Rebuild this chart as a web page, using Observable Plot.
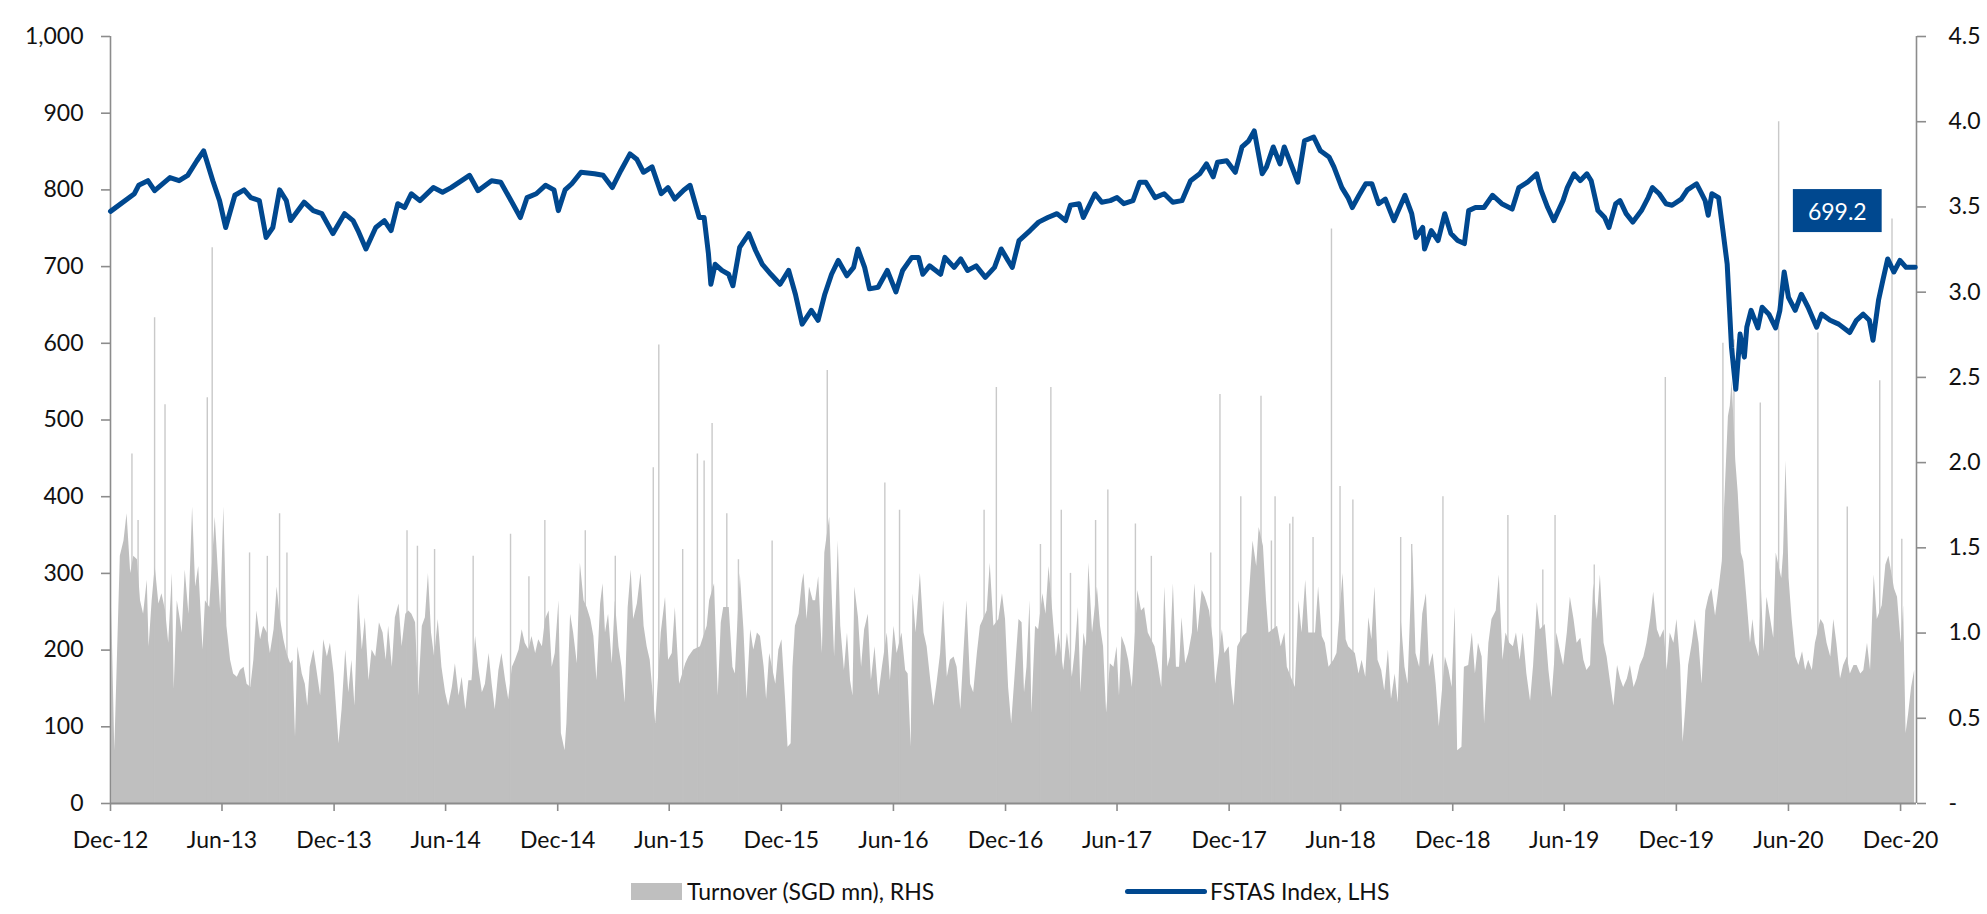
<!DOCTYPE html>
<html>
<head>
<meta charset="utf-8">
<script src="https://cdn.jsdelivr.net/npm/d3@7"></script>
<script src="https://cdn.jsdelivr.net/npm/@observablehq/plot@0.6"></script>
<style>
  html, body { margin: 0; padding: 0; background: #fff; }
  #chart svg { display: block; }
  #legend { position: relative; width: 1987px; height: 54px; font-family: Lato, "Open Sans", sans-serif; font-size: 23px; color: #111; }
  .item { position: absolute; top: 17px; height: 28px; display: flex; align-items: center; white-space: nowrap; }
  .sw-area { width: 51px; height: 17px; background: #bfbfbf; margin-right: 5px; }
  .sw-line { width: 82px; height: 5px; border-radius: 3px; background: #00488f; margin-right: 3px; }
</style>
</head>
<body>
<div id="chart"></div>
<div id="legend">
  <div class="item" style="left:631px"><div class="sw-area"></div><span>Turnover (SGD mn), RHS</span></div>
  <div class="item" style="left:1125px"><div class="sw-line"></div><span>FSTAS Index, LHS</span></div>
</div>
<script>
// ---- FSTAS Index (LHS) ----
const fstas = [
["2012-12-01",772],["2013-01-09",795],["2013-01-16",806],["2013-01-31",812],["2013-02-11",799],["2013-03-08",816],
["2013-03-23",812],["2013-04-06",819],["2013-04-21",838],["2013-05-02",851],["2013-05-17",812],["2013-05-28",786],
["2013-06-07",751],["2013-06-22",793],["2013-07-07",800],["2013-07-18",790],["2013-08-01",786],["2013-08-12",738],
["2013-08-23",751],["2013-09-03",800],["2013-09-14",786],["2013-09-21",760],["2013-10-13",784],["2013-10-28",773],
["2013-11-11",769],["2013-11-29",743],["2013-12-18",769],["2014-01-01",760],["2014-01-09",747],["2014-01-22",723],
["2014-02-07",751],["2014-02-21",760],["2014-03-04",747],["2014-03-15",782],["2014-03-26",777],["2014-04-06",795],
["2014-04-20",786],["2014-05-12",803],["2014-05-27",797],["2014-06-10",803],["2014-07-10",819],["2014-07-24",799],
["2014-08-15",812],["2014-08-30",810],["2014-09-13",790],["2014-10-01",764],["2014-10-12",790],["2014-10-27",795],
["2014-11-11",806],["2014-11-25",800],["2014-12-02",773],["2014-12-13",800],["2014-12-24",808],["2015-01-08",823],
["2015-01-30",821],["2015-02-13",819],["2015-02-28",803],["2015-03-14",825],["2015-03-29",847],["2015-04-09",840],
["2015-04-20",823],["2015-05-04",830],["2015-05-19",795],["2015-05-30",803],["2015-06-10",788],["2015-06-25",800],
["2015-07-05",806],["2015-07-20",764],["2015-07-28",764],["2015-08-04",717],["2015-08-08",677],["2015-08-15",703],
["2015-08-26",695],["2015-09-06",690],["2015-09-13",675],["2015-09-24",725],["2015-10-09",743],["2015-10-20",721],
["2015-10-31",703],["2015-11-14",690],["2015-11-29",677],["2015-12-13",695],["2015-12-24",664],["2016-01-04",625],
["2016-01-19",643],["2016-01-30",630],["2016-02-10",664],["2016-02-21",690],["2016-03-03",708],["2016-03-17",688],
["2016-03-28",699],["2016-04-04",723],["2016-04-15",699],["2016-04-23",671],["2016-05-07",673],["2016-05-22",695],
["2016-06-05",667],["2016-06-16",695],["2016-07-01",712],["2016-07-12",712],["2016-07-19",690],["2016-07-30",701],
["2016-08-17",690],["2016-08-24",712],["2016-09-08",699],["2016-09-19",710],["2016-09-30",695],["2016-10-14",701],
["2016-10-29",686],["2016-11-13",699],["2016-11-24",723],["2016-12-05",708],["2016-12-12",699],["2016-12-23",734],
["2017-01-10",747],["2017-01-24",758],["2017-02-08",764],["2017-02-23",769],["2017-03-09",760],["2017-03-17",780],
["2017-03-31",782],["2017-04-07",764],["2017-04-26",795],["2017-05-07",784],["2017-05-21",786],["2017-06-01",790],
["2017-06-12",782],["2017-06-27",786],["2017-07-08",810],["2017-07-18",810],["2017-08-02",790],["2017-08-17",795],
["2017-08-31",784],["2017-09-15",786],["2017-09-29",812],["2017-10-14",821],["2017-10-25",834],["2017-11-05",817],
["2017-11-12",836],["2017-11-27",838],["2017-12-11",823],["2017-12-22",856],["2018-01-02",864],["2018-01-11",877],
["2018-01-24",821],["2018-01-31",830],["2018-02-11",856],["2018-02-22",834],["2018-03-01",856],["2018-03-16",825],
["2018-03-23",810],["2018-04-03",864],["2018-04-18",869],["2018-04-29",851],["2018-05-13",843],["2018-05-21",830],
["2018-06-03",803],["2018-06-13",790],["2018-06-20",777],["2018-07-01",793],["2018-07-12",808],["2018-07-22",808],
["2018-08-02",782],["2018-08-13",788],["2018-08-27",760],["2018-09-14",793],["2018-09-25",769],["2018-10-02",738],
["2018-10-13",751],["2018-10-16",723],["2018-10-27",747],["2018-11-07",734],["2018-11-18",769],["2018-11-28",743],
["2018-12-09",734],["2018-12-20",730],["2018-12-27",773],["2019-01-07",777],["2019-01-21",777],["2019-02-04",793],
["2019-02-19",782],["2019-03-08",775],["2019-03-19",803],["2019-04-02",810],["2019-04-17",821],["2019-04-24",800],
["2019-05-05",777],["2019-05-15",760],["2019-05-30",786],["2019-06-06",803],["2019-06-17",821],["2019-06-27",812],
["2019-07-08",821],["2019-07-15",812],["2019-07-26",773],["2019-08-06",764],["2019-08-13",751],["2019-08-24",782],
["2019-08-31",786],["2019-09-10",769],["2019-09-21",758],["2019-10-05",773],["2019-10-16",790],["2019-10-23",803],
["2019-11-03",795],["2019-11-14",782],["2019-11-24",780],["2019-12-09",788],["2019-12-19",800],["2020-01-03",808],
["2020-01-10",797],["2020-01-17",786],["2020-01-22",767],["2020-01-28",795],["2020-02-08",790],["2020-02-15",747],
["2020-02-22",703],["2020-02-29",595],["2020-03-07",540],["2020-03-14",612],["2020-03-21",582],["2020-03-25",621],
["2020-04-01",643],["2020-04-12",620],["2020-04-19",647],["2020-04-30",638],["2020-05-11",620],["2020-05-18",643],
["2020-05-25",693],["2020-06-01",660],["2020-06-12",643],["2020-06-22",664],["2020-07-03",647],["2020-07-17",621],
["2020-07-25",638],["2020-08-08",630],["2020-08-22",625],["2020-09-09",614],["2020-09-20",630],["2020-10-01",638],
["2020-10-11",630],["2020-10-17",604],["2020-10-26",656],["2020-11-02",682],["2020-11-10",710],["2020-11-20",693],
["2020-11-30",708],["2020-12-10",699],["2020-12-25",699.2]
];

// ---- Turnover (RHS) : general level ----
const turnover = [
["2012-12-03",1.15],["2012-12-08",0.31],["2012-12-12",0.82],["2012-12-17",1.45],["2012-12-23",1.54],["2012-12-28",1.70],
["2013-01-03",1.35],["2013-01-08",1.45],["2013-01-14",1.43],["2013-01-19",1.19],["2013-01-24",1.11],["2013-01-30",1.31],
["2013-02-02",0.92],["2013-02-07",1.19],["2013-02-12",1.39],["2013-02-18",1.17],["2013-02-23",1.23],["2013-03-01",1.13],
["2013-03-06",0.94],["2013-03-12",1.35],["2013-03-15",0.67],["2013-03-20",1.19],["2013-03-25",1.08],["2013-03-28",1.00],
["2013-04-02",1.37],["2013-04-08",1.11],["2013-04-14",1.74],["2013-04-19",1.27],["2013-04-24",1.39],["2013-05-01",0.90],
["2013-05-05",1.19],["2013-05-12",1.15],["2013-05-21",1.68],["2013-05-30",1.11],["2013-06-04",1.74],["2013-06-09",1.04],
["2013-06-15",0.84],["2013-06-20",0.76],["2013-06-26",0.74],["2013-07-01",0.78],["2013-07-07",0.80],["2013-07-12",0.70],
["2013-07-18",0.68],["2013-07-23",0.84],["2013-07-28",1.13],["2013-08-03",0.96],["2013-08-08",1.04],["2013-08-14",1.00],
["2013-08-19",0.88],["2013-08-25",1.02],["2013-08-30",1.27],["2013-09-04",1.09],["2013-09-10",0.96],["2013-09-15",0.88],
["2013-09-21",0.82],["2013-09-25",0.84],["2013-09-29",0.39],["2013-10-03",0.92],["2013-10-10",0.76],["2013-10-15",0.70],
["2013-10-19",0.57],["2013-10-23",0.80],["2013-10-29",0.90],["2013-11-03",0.78],["2013-11-09",0.63],["2013-11-14",0.96],
["2013-11-20",0.86],["2013-11-25",0.94],["2013-12-01",0.76],["2013-12-04",0.61],["2013-12-09",0.35],["2013-12-14",0.55],
["2013-12-20",0.90],["2013-12-25",0.65],["2013-12-30",0.84],["2014-01-04",0.57],["2014-01-10",1.23],["2014-01-16",0.90],
["2014-01-21",1.09],["2014-01-27",0.72],["2014-02-01",0.90],["2014-02-07",0.86],["2014-02-13",1.06],["2014-02-19",1.00],
["2014-02-24",0.84],["2014-02-28",1.04],["2014-03-06",0.80],["2014-03-11",1.09],["2014-03-17",1.17],["2014-03-22",0.92],
["2014-03-28",1.11],["2014-04-02",1.13],["2014-04-07",1.11],["2014-04-13",1.06],["2014-04-18",0.63],["2014-04-24",1.04],
["2014-04-29",1.09],["2014-05-04",1.35],["2014-05-09",1.00],["2014-05-14",0.86],["2014-05-20",1.08],["2014-05-26",0.80],
["2014-06-01",0.65],["2014-06-06",0.57],["2014-06-12",0.68],["2014-06-17",0.82],["2014-06-23",0.63],["2014-06-28",0.74],
["2014-07-04",0.55],["2014-07-09",0.72],["2014-07-14",0.72],["2014-07-20",0.98],["2014-07-25",0.80],["2014-07-31",0.65],
["2014-08-05",0.70],["2014-08-11",0.88],["2014-08-16",0.70],["2014-08-21",0.55],["2014-08-27",0.78],["2014-09-01",0.88],
["2014-09-07",0.72],["2014-09-12",0.61],["2014-09-18",0.80],["2014-09-23",0.84],["2014-09-29",0.90],["2014-10-04",1.02],
["2014-10-09",0.94],["2014-10-15",0.90],["2014-10-20",0.98],["2014-10-26",0.88],["2014-10-31",0.96],["2014-11-06",0.92],
["2014-11-11",1.08],["2014-11-17",1.13],["2014-11-22",0.80],["2014-11-27",0.88],["2014-12-03",1.19],["2014-12-07",0.41],
["2014-12-13",0.31],["2014-12-16",0.47],["2014-12-22",1.11],["2014-12-27",1.00],["2015-01-02",0.82],["2015-01-07",1.41],
["2015-01-13",1.19],["2015-01-18",1.15],["2015-01-24",1.08],["2015-01-29",0.98],["2015-02-03",0.72],["2015-02-09",1.17],
["2015-02-13",1.29],["2015-02-17",1.00],["2015-02-22",1.11],["2015-02-28",0.82],["2015-03-05",1.19],["2015-03-11",0.92],
["2015-03-16",0.80],["2015-03-21",0.59],["2015-03-26",1.15],["2015-03-31",1.37],["2015-04-04",1.08],["2015-04-10",1.17],
["2015-04-16",1.35],["2015-04-21",1.04],["2015-04-26",0.92],["2015-05-01",0.84],["2015-05-10",0.47],["2015-05-19",1.00],
["2015-05-26",1.21],["2015-05-31",0.84],["2015-06-06",0.88],["2015-06-11",1.15],["2015-06-18",0.70],["2015-06-28",0.82],
["2015-07-03",0.86],["2015-07-11",0.90],["2015-07-22",0.92],["2015-08-02",1.04],["2015-08-06",1.19],["2015-08-14",1.29],
["2015-08-20",0.63],["2015-08-25",1.06],["2015-08-29",1.15],["2015-09-07",1.15],["2015-09-13",0.80],["2015-09-17",0.76],
["2015-09-25",1.35],["2015-10-01",1.02],["2015-10-06",0.61],["2015-10-12",1.02],["2015-10-17",0.90],["2015-10-23",1.00],
["2015-10-28",0.98],["2015-11-03",0.80],["2015-11-07",0.61],["2015-11-12",0.88],["2015-11-22",0.70],["2015-11-27",0.90],
["2015-12-02",0.96],["2015-12-08",0.61],["2015-12-12",0.33],["2015-12-17",0.35],["2015-12-20",0.80],["2015-12-24",1.04],
["2015-12-30",1.11],["2016-01-04",1.29],["2016-01-07",1.35],["2016-01-12",1.08],["2016-01-16",1.27],["2016-01-22",1.19],
["2016-01-26",1.19],["2016-01-31",1.33],["2016-02-06",0.88],["2016-02-10",1.47],["2016-02-18",1.68],["2016-02-22",1.23],
["2016-02-26",0.86],["2016-03-03",1.54],["2016-03-07",1.04],["2016-03-13",0.78],["2016-03-18",1.00],["2016-03-23",0.72],
["2016-03-27",0.63],["2016-03-30",1.27],["2016-04-05",1.09],["2016-04-10",0.80],["2016-04-15",1.02],["2016-04-21",1.11],
["2016-04-26",0.72],["2016-05-02",0.92],["2016-05-08",0.63],["2016-05-14",0.80],["2016-05-22",1.00],["2016-05-27",0.72],
["2016-06-02",1.04],["2016-06-07",0.88],["2016-06-15",1.00],["2016-06-21",0.78],["2016-06-25",0.76],["2016-06-30",0.33],
["2016-07-03",1.23],["2016-07-08",1.00],["2016-07-15",1.35],["2016-07-21",1.00],["2016-07-26",0.92],["2016-08-01",0.72],
["2016-08-06",0.57],["2016-08-11",0.70],["2016-08-17",0.88],["2016-08-22",1.19],["2016-08-28",0.74],["2016-09-02",0.84],
["2016-09-08",0.86],["2016-09-13",0.80],["2016-09-19",0.55],["2016-09-24",0.88],["2016-09-29",1.19],["2016-10-05",0.70],
["2016-10-10",0.65],["2016-10-16",0.88],["2016-10-21",1.04],["2016-11-01",1.13],["2016-11-06",1.41],["2016-11-12",1.04],
["2016-11-20",1.08],["2016-11-26",1.23],["2016-12-01",1.08],["2016-12-06",0.68],["2016-12-11",0.47],["2016-12-16",0.72],
["2016-12-23",1.08],["2016-12-28",1.06],["2017-01-01",0.65],["2017-01-05",0.80],["2017-01-10",1.19],["2017-01-13",0.53],
["2017-01-19",1.04],["2017-01-24",1.02],["2017-01-31",1.23],["2017-02-05",1.11],["2017-02-10",1.39],["2017-02-18",1.04],
["2017-02-22",0.86],["2017-02-26",1.00],["2017-03-06",0.78],["2017-03-12",1.00],["2017-03-20",0.74],["2017-03-25",0.90],
["2017-03-30",1.15],["2017-04-03",0.65],["2017-04-08",1.00],["2017-04-12",0.92],["2017-04-16",1.41],["2017-04-22",1.00],
["2017-04-30",1.27],["2017-05-05",1.04],["2017-05-10",0.92],["2017-05-15",0.53],["2017-05-21",0.82],["2017-05-27",0.80],
["2017-06-01",0.92],["2017-06-05",0.63],["2017-06-09",0.98],["2017-06-15",0.92],["2017-06-20",0.84],["2017-06-26",0.68],
["2017-07-05",1.25],["2017-07-11",1.13],["2017-07-16",1.15],["2017-07-22",1.00],["2017-08-02",0.92],["2017-08-07",0.82],
["2017-08-13",0.68],["2017-08-18",1.27],["2017-08-23",0.80],["2017-08-27",0.86],["2017-09-01",1.29],["2017-09-06",0.80],
["2017-09-11",0.80],["2017-09-15",1.09],["2017-09-21",0.82],["2017-09-26",0.88],["2017-10-02",1.00],["2017-10-06",1.29],
["2017-10-11",1.00],["2017-10-18",1.25],["2017-10-23",1.21],["2017-10-30",1.13],["2017-11-05",0.96],["2017-11-09",0.70],
["2017-11-20",1.02],["2017-11-24",0.88],["2017-12-01",0.92],["2017-12-05",0.70],["2017-12-09",0.57],["2017-12-15",0.92],
["2017-12-24",0.98],["2017-12-30",1.00],["2018-01-04",1.27],["2018-01-09",1.54],["2018-01-15",1.39],["2018-01-19",1.62],
["2018-01-26",1.51],["2018-01-31",1.19],["2018-02-04",1.00],["2018-02-18",1.04],["2018-02-24",0.92],["2018-03-02",1.00],
["2018-03-06",0.80],["2018-03-19",0.68],["2018-03-25",1.19],["2018-03-30",1.00],["2018-04-05",1.31],["2018-04-10",1.00],
["2018-04-21",1.00],["2018-04-26",1.27],["2018-05-02",0.98],["2018-05-07",0.94],["2018-05-13",0.80],["2018-05-21",0.84],
["2018-05-26",0.88],["2018-06-05",1.35],["2018-06-10",0.96],["2018-06-14",0.92],["2018-06-25",0.88],["2018-07-01",0.76],
["2018-07-06",0.84],["2018-07-12",0.74],["2018-07-17",1.09],["2018-07-22",0.96],["2018-07-27",1.27],["2018-08-01",0.84],
["2018-08-07",0.78],["2018-08-12",0.66],["2018-08-18",0.90],["2018-08-23",0.61],["2018-08-29",0.76],["2018-09-03",0.59],
["2018-09-08",1.08],["2018-09-14",0.80],["2018-09-19",0.70],["2018-09-27",1.49],["2018-10-02",0.88],["2018-10-08",0.80],
["2018-10-13",1.11],["2018-10-19",1.23],["2018-10-24",0.80],["2018-10-30",0.88],["2018-11-04",0.70],["2018-11-09",0.45],
["2018-11-19",0.86],["2018-11-25",0.78],["2018-11-30",0.68],["2018-12-05",1.15],["2018-12-09",0.31],["2018-12-16",0.33],
["2018-12-20",0.80],["2018-12-27",0.81],["2019-01-02",1.00],["2019-01-07",0.76],["2019-01-12",0.94],["2019-01-18",0.86],
["2019-01-22",0.47],["2019-01-29",0.94],["2019-02-03",1.08],["2019-02-10",1.13],["2019-02-15",1.34],["2019-02-21",0.84],
["2019-02-26",1.00],["2019-03-04",0.94],["2019-03-10",0.92],["2019-03-15",1.00],["2019-03-21",0.84],["2019-03-26",1.00],
["2019-04-01",0.76],["2019-04-07",0.60],["2019-04-12",0.81],["2019-04-18",1.18],["2019-04-23",1.02],["2019-05-01",1.05],
["2019-05-07",0.78],["2019-05-12",0.62],["2019-05-20",1.00],["2019-05-26",0.89],["2019-05-31",0.81],["2019-06-06",1.00],
["2019-06-11",1.21],["2019-06-17",1.08],["2019-06-22",0.94],["2019-06-28",0.97],["2019-07-03",0.84],["2019-07-08",0.78],
["2019-07-14",0.81],["2019-07-19",1.29],["2019-07-25",1.08],["2019-07-30",1.34],["2019-08-05",0.94],["2019-08-10",0.86],
["2019-08-16",0.70],["2019-08-21",0.57],["2019-08-27",0.81],["2019-09-01",0.73],["2019-09-06",0.68],["2019-09-12",0.73],
["2019-09-17",0.81],["2019-09-23",0.68],["2019-09-28",0.73],["2019-10-03",0.81],["2019-10-09",0.86],["2019-10-14",0.94],
["2019-10-20",1.08],["2019-10-25",1.24],["2019-10-31",1.02],["2019-11-05",0.97],["2019-11-11",1.02],["2019-11-16",0.78],
["2019-11-21",1.00],["2019-11-27",0.94],["2019-12-02",1.08],["2019-12-08",0.81],["2019-12-12",0.36],["2019-12-16",0.54],
["2019-12-21",0.81],["2019-12-27",0.94],["2020-01-01",1.08],["2020-01-07",0.94],["2020-01-12",0.70],["2020-01-18",1.13],
["2020-01-23",1.21],["2020-01-28",1.26],["2020-02-03",1.10],["2020-02-08",1.24],["2020-02-14",1.42],["2020-02-19",1.85],
["2020-02-24",2.27],["2020-02-27",2.33],["2020-03-01",2.48],["2020-03-07",2.01],["2020-03-11",1.82],["2020-03-16",1.47],
["2020-03-20",1.42],["2020-03-25",1.21],["2020-03-31",0.94],["2020-04-04",1.08],["2020-04-08",0.94],["2020-04-14",0.86],
["2020-04-18",1.26],["2020-04-22",0.89],["2020-04-27",1.21],["2020-05-03",1.08],["2020-05-08",0.97],["2020-05-12",1.47],
["2020-05-21",1.32],["2020-05-24",1.47],["2020-05-28",2.01],["2020-06-02",1.32],["2020-06-07",1.08],["2020-06-13",0.86],
["2020-06-18",0.81],["2020-06-24",0.89],["2020-06-29",0.78],["2020-07-04",0.84],["2020-07-10",0.78],["2020-07-15",0.94],
["2020-07-24",1.08],["2020-07-29",1.05],["2020-08-03",0.94],["2020-08-09",0.86],["2020-08-14",1.08],["2020-08-19",0.94],
["2020-08-25",0.73],["2020-08-30",0.81],["2020-09-05",0.86],["2020-09-10",0.76],["2020-09-16",0.81],["2020-09-21",0.81],
["2020-09-27",0.76],["2020-10-02",0.78],["2020-10-08",0.94],["2020-10-13",0.78],["2020-10-19",1.34],["2020-10-24",1.08],
["2020-11-01",1.16],["2020-11-07",1.40],["2020-11-12",1.45],["2020-11-21",1.26],["2020-11-26",1.21],["2020-12-02",0.94],
["2020-12-06",1.16],["2020-12-10",0.41],["2020-12-14",0.52],["2020-12-19",0.68],["2020-12-24",0.78]
];

// ---- Turnover (RHS) : single-day peaks ----
const turnoverPeaks = [
["2013-01-05",2.05],["2013-01-15",1.66],["2013-02-11",2.85],["2013-02-28",2.34],["2013-05-08",2.38],["2013-05-16",3.26],
["2013-07-16",1.47],["2013-08-14",1.45],["2013-09-03",1.70],["2013-09-15",1.47],["2014-03-30",1.60],["2014-04-16",1.51],
["2014-05-14",1.49],["2014-07-16",1.45],["2014-09-15",1.58],["2014-10-15",1.33],["2014-11-10",1.66],["2015-01-15",1.60],
["2015-03-05",1.45],["2015-05-06",1.97],["2015-05-15",2.69],["2015-06-23",1.49],["2015-07-17",2.05],["2015-07-28",2.01],
["2015-08-10",2.23],["2015-09-03",1.70],["2015-09-22",1.43],["2015-11-16",1.54],["2016-02-14",2.54],["2016-05-18",1.88],
["2016-06-11",1.72],["2016-10-27",1.72],["2016-11-16",2.44],["2017-01-27",1.52],["2017-02-13",2.44],["2017-03-02",1.72],
["2017-03-17",1.35],["2017-04-27",1.66],["2017-05-17",1.84],["2017-07-01",1.64],["2017-07-27",1.45],["2017-11-01",1.47],
["2017-11-16",2.40],["2017-12-20",1.80],["2018-01-22",2.39],["2018-02-08",1.54],["2018-02-14",1.80],["2018-03-10",1.64],
["2018-03-15",1.68],["2018-04-17",1.56],["2018-05-17",3.37],["2018-05-31",1.86],["2018-06-21",1.78],["2018-09-07",1.56],
["2018-09-25",1.52],["2018-11-15",1.80],["2019-03-01",1.69],["2019-04-27",1.37],["2019-05-17",1.69],["2019-07-20",1.40],
["2019-11-13",2.50],["2020-02-15",2.70],["2020-03-04",2.72],["2020-04-16",2.35],["2020-05-16",4.00],["2020-07-19",2.76],
["2020-09-05",1.74],["2020-10-28",2.48],["2020-11-17",3.43],["2020-12-03",1.55]
];

// ---- axes ----
const xTicks = ["2012-12-01","2013-06-01","2013-12-01","2014-06-01","2014-12-01","2015-06-01","2015-12-01","2016-06-01",
  "2016-12-01","2017-06-01","2017-12-01","2018-06-01","2018-12-01","2019-06-01","2019-12-01","2020-06-01","2020-12-01"];
const xDomain = ["2012-12-01","2020-12-27"];
const leftTicks = [0,100,200,300,400,500,600,700,800,900,1000];
const rightTicks = [0,0.5,1.0,1.5,2.0,2.5,3.0,3.5,4.0,4.5];
const leftMax = 1000, rightMax = 4.5;

const ratio = leftMax / rightMax;
const blue = "#00488f", grey = "#bfbfbf", axisGrey = "#8c8c8c";
const FONT = 23;

const lineData = fstas.map(([d, v]) => ({date: new Date(d), v}));
const areaData = turnover.map(([d, v]) => ({date: new Date(d), v}));
const peakData = turnoverPeaks.map(([d, v]) => ({date: new Date(d), v}));
const last = lineData[lineData.length - 1];
const lastText = last.v.toFixed(1);
const dom = xDomain.map(d => new Date(d));

const chart = Plot.plot({
  width: 1987,
  height: 860,
  marginLeft: 110,
  marginRight: 71,
  marginTop: 36,
  marginBottom: 57,
  style: {fontFamily: "Lato, 'Open Sans', sans-serif", fontSize: FONT + "px", color: "#111", background: "#fff"},
  x: {type: "utc", domain: dom, axis: null},
  y: {domain: [0, leftMax], axis: null},
  marks: [
    Plot.areaY(areaData, {x: "date", y: d => d.v * ratio, fill: grey, curve: "linear"}),
    Plot.ruleX(peakData, {x: "date", y1: 0, y2: d => d.v * ratio, stroke: grey, strokeWidth: 1.4, strokeOpacity: 0.85}),
    Plot.ruleY([0], {stroke: axisGrey, strokeWidth: 2}),
    Plot.ruleX([dom[0]], {y1: 0, y2: leftMax, stroke: axisGrey, strokeWidth: 1.6}),
    Plot.ruleX([dom[1]], {y1: 0, y2: leftMax, stroke: axisGrey, strokeWidth: 1.6}),
    Plot.axisX(xTicks.map(d => new Date(d)), {anchor: "bottom", tickSize: 8, tickPadding: 20, tickFormat: d3.utcFormat("%b-%y"),
      stroke: axisGrey, strokeWidth: 1.6, fill: "#111", fontSize: FONT, label: null}),
    Plot.axisY(leftTicks, {anchor: "left", tickSize: 9, tickPadding: 18, tickFormat: d3.format(","),
      stroke: axisGrey, strokeWidth: 1.6, fill: "#111", fontSize: FONT, label: null}),
    Plot.axisY(rightTicks.map(v => v * ratio), {anchor: "right", tickSize: 9, tickPadding: 23,
      tickFormat: d => { const v = d / ratio; return Math.abs(v) < 1e-9 ? "-" : v.toFixed(1); },
      stroke: axisGrey, strokeWidth: 1.6, fill: "#111", fontSize: FONT, label: null}),
    Plot.line(lineData, {x: "date", y: "v", stroke: blue, strokeWidth: 5, strokeLinejoin: "round", strokeLinecap: "round", curve: "linear"}),
    Plot.text([last], {x: "date", y: "v", text: () => lastText, dx: -78, dy: -55, fill: "#ffffff", fontSize: FONT,
      textAnchor: "middle", lineAnchor: "middle"})
  ]
});

document.getElementById("chart").appendChild(chart);

// blue box behind the last-value label
const labelText = Array.from(chart.querySelectorAll("text")).find(t => t.textContent.trim() === lastText);
if (labelText) {
  const bb = labelText.getBBox();
  const padX = 15, h = 43;
  const cy = bb.y + bb.height / 2;
  const rect = document.createElementNS("http://www.w3.org/2000/svg", "rect");
  rect.setAttribute("x", bb.x - padX);
  rect.setAttribute("y", cy - h / 2);
  rect.setAttribute("width", bb.width + 2 * padX);
  rect.setAttribute("height", h);
  rect.setAttribute("fill", blue);
  const tr = labelText.getAttribute("transform");
  if (tr) rect.setAttribute("transform", tr);
  labelText.parentNode.insertBefore(rect, labelText);
}
</script>
</body>
</html>
